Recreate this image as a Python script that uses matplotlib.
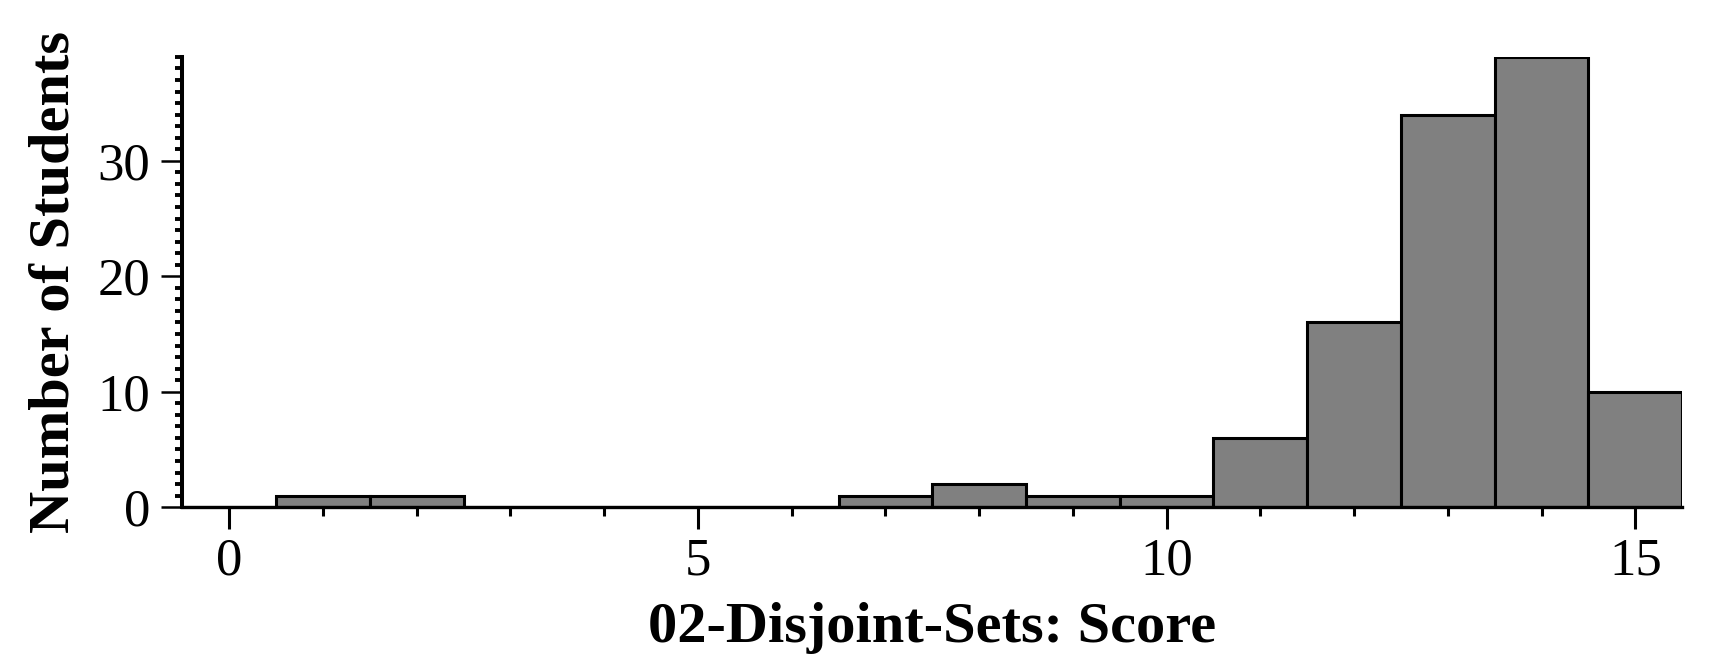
import matplotlib
matplotlib.use("Agg")
import matplotlib.pyplot as plt
from matplotlib.ticker import MultipleLocator

scores = [0, 1, 2, 3, 4, 5, 6, 7, 8, 9, 10, 11, 12, 13, 14, 15]
counts = [0, 1, 1, 0, 0, 0, 0, 1, 2, 1, 1, 6, 16, 34, 39, 10]
xlabel = "02-Disjoint-Sets: Score"
ylabel = "Number of Students"

plt.rcParams['font.family'] = ['Liberation Serif', 'DejaVu Serif']

fig = plt.figure(figsize=(17.2, 6.7), dpi=100)
ax = fig.add_axes([0.106, 0.243, 0.872, 0.672])
ax.bar(scores, counts, width=1.0, color="#808080", edgecolor="black", linewidth=2.2)
ax.set_xlim(-0.5, 15.5)
ax.set_ylim(0, 39)
for s in ["top", "right"]:
    ax.spines[s].set_visible(False)
ax.spines["left"].set_linewidth(2.9)
ax.spines["bottom"].set_linewidth(2.4)
ax.xaxis.set_major_locator(MultipleLocator(5))
ax.xaxis.set_minor_locator(MultipleLocator(1))
ax.yaxis.set_major_locator(MultipleLocator(10))
ax.yaxis.set_minor_locator(MultipleLocator(1))
ax.tick_params(axis="x", which="major", length=16, width=2.2, labelsize=38, pad=6, direction="out")
ax.tick_params(axis="x", which="minor", length=6.5, width=2.2, direction="out")
ax.tick_params(axis="y", which="major", length=15, width=1.8, labelsize=38, pad=8, direction="out")
ax.tick_params(axis="y", which="minor", length=5, width=2.8, direction="out")
ax.set_xlabel(xlabel, fontsize=42, fontweight="bold", labelpad=12)
ax.set_ylabel(ylabel, fontsize=42, fontweight="bold", labelpad=12)
fig.savefig("out.png", dpi=100)
